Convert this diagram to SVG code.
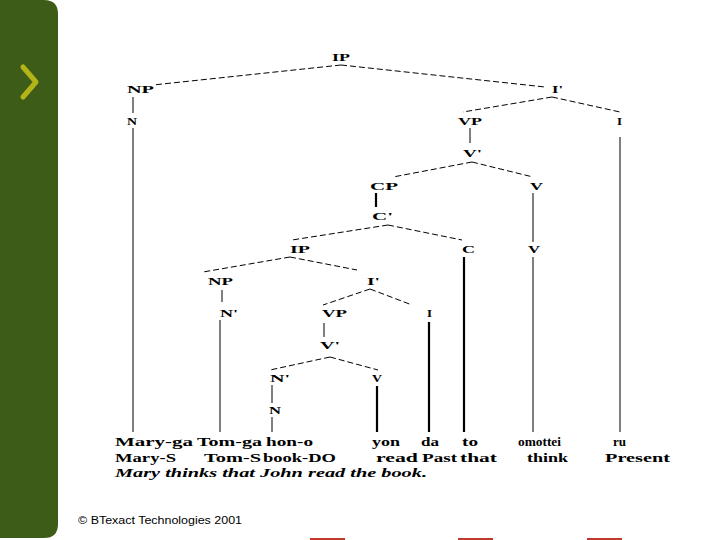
<svg xmlns="http://www.w3.org/2000/svg" width="720" height="540" viewBox="0 0 720 540">
<style>
.lbl{font-family:"Liberation Serif","Times New Roman",serif;font-weight:bold;font-size:11px;fill:#000}
.row{font-family:"Liberation Serif","Times New Roman",serif;font-weight:bold;font-size:12.5px;fill:#000}
.dash{stroke:#000;stroke-width:1;stroke-dasharray:6 3;fill:none}
.sol{stroke:#000;stroke-width:1;fill:none}
.thick{stroke:#000;stroke-width:2.2;fill:none}
.mark{fill:#c0392b}
</style>
<rect width="720" height="540" fill="#fff"/>
<g id="sidebar">
<path d="M0,0 H44 Q58,0 58,14 V524 Q58,538 44,538 H0 Z" fill="#3d5c18"/>
<polyline points="23,67 36,82 23,97" fill="none" stroke="#b3b418" stroke-width="5" stroke-linecap="round" stroke-linejoin="round"/>
</g>
<g id="connectors">
<line class="dash" x1="341" y1="65" x2="153" y2="85"/>
<line class="dash" x1="341" y1="65" x2="545" y2="87"/>
<line class="dash" x1="552" y1="97" x2="463" y2="112"/>
<line class="dash" x1="552" y1="97" x2="620" y2="112"/>
<line class="dash" x1="472" y1="162" x2="393" y2="177"/>
<line class="dash" x1="472" y1="162" x2="533" y2="177"/>
<line class="dash" x1="388" y1="225" x2="292" y2="240"/>
<line class="dash" x1="388" y1="225" x2="462" y2="240"/>
<line class="dash" x1="290" y1="257" x2="203" y2="272"/>
<line class="dash" x1="290" y1="257" x2="357" y2="270"/>
<line class="dash" x1="370" y1="289" x2="323" y2="305"/>
<line class="dash" x1="370" y1="289" x2="412" y2="305"/>
<line class="dash" x1="330" y1="357" x2="270" y2="370"/>
<line class="dash" x1="330" y1="357" x2="378" y2="370"/>
<line class="sol" x1="133" y1="97" x2="133" y2="113"/>
<line class="sol" x1="133" y1="128" x2="133" y2="432"/>
<line class="sol" x1="470" y1="128" x2="470" y2="143"/>
<line class="sol" x1="620" y1="137" x2="620" y2="432"/>
<line class="sol" x1="533" y1="193" x2="533" y2="242"/>
<line class="sol" x1="533" y1="257" x2="533" y2="432"/>
<line class="thick" x1="376" y1="193" x2="376" y2="207"/>
<line class="thick" x1="464" y1="257" x2="464" y2="432"/>
<line class="sol" x1="222" y1="290" x2="222" y2="302"/>
<line class="sol" x1="220" y1="320" x2="220" y2="432"/>
<line class="thick" x1="429" y1="322" x2="429" y2="432"/>
<line class="sol" x1="324" y1="323" x2="324" y2="337"/>
<line class="sol" x1="272" y1="385" x2="272" y2="403"/>
<line class="sol" x1="272" y1="417" x2="272" y2="432"/>
<line class="thick" x1="377" y1="386" x2="377" y2="432"/>
</g>
<g id="n-ip1"><text class="lbl" x="332" y="61" textLength="18" lengthAdjust="spacingAndGlyphs">IP</text></g>
<g id="n-np1"><text class="lbl" x="127" y="93" textLength="27" lengthAdjust="spacingAndGlyphs">NP</text></g>
<g id="n-n1"><text class="lbl" x="127" y="125" textLength="10" lengthAdjust="spacingAndGlyphs">N</text></g>
<g id="n-ibar1"><text class="lbl" x="552" y="93" textLength="11" lengthAdjust="spacingAndGlyphs">I'</text></g>
<g id="n-vp1"><text class="lbl" x="458" y="125" textLength="24" lengthAdjust="spacingAndGlyphs">VP</text></g>
<g id="n-i1"><text class="lbl" x="617" y="125" textLength="5" lengthAdjust="spacingAndGlyphs">I</text></g>
<g id="n-vbar1"><text class="lbl" x="463" y="157" textLength="19" lengthAdjust="spacingAndGlyphs">V'</text></g>
<g id="n-cp"><text class="lbl" x="370" y="190" textLength="28" lengthAdjust="spacingAndGlyphs">CP</text></g>
<g id="n-v1"><text class="lbl" x="530" y="190" textLength="13" lengthAdjust="spacingAndGlyphs">V</text></g>
<g id="n-cbar"><text class="lbl" x="372" y="220" textLength="21" lengthAdjust="spacingAndGlyphs">C'</text></g>
<g id="n-v2"><text class="lbl" x="528" y="253" textLength="12" lengthAdjust="spacingAndGlyphs">V</text></g>
<g id="n-c"><text class="lbl" x="462" y="253" textLength="13" lengthAdjust="spacingAndGlyphs">C</text></g>
<g id="n-ip2"><text class="lbl" x="290" y="253" textLength="20" lengthAdjust="spacingAndGlyphs">IP</text></g>
<g id="n-np2"><text class="lbl" x="208" y="285" textLength="25" lengthAdjust="spacingAndGlyphs">NP</text></g>
<g id="n-ibar2"><text class="lbl" x="367" y="285" textLength="13" lengthAdjust="spacingAndGlyphs">I'</text></g>
<g id="n-nbar1"><text class="lbl" x="220" y="317" textLength="18" lengthAdjust="spacingAndGlyphs">N'</text></g>
<g id="n-vp2"><text class="lbl" x="322" y="317" textLength="25" lengthAdjust="spacingAndGlyphs">VP</text></g>
<g id="n-i2"><text class="lbl" x="427" y="317" textLength="5" lengthAdjust="spacingAndGlyphs">I</text></g>
<g id="n-vbar2"><text class="lbl" x="320" y="349" textLength="20" lengthAdjust="spacingAndGlyphs">V'</text></g>
<g id="n-nbar2"><text class="lbl" x="270" y="382" textLength="20" lengthAdjust="spacingAndGlyphs">N'</text></g>
<g id="n-v3"><text class="lbl" x="372" y="382" textLength="10" lengthAdjust="spacingAndGlyphs">V</text></g>
<g id="n-n2"><text class="lbl" x="269" y="414" textLength="12" lengthAdjust="spacingAndGlyphs">N</text></g>
<g id="gloss">
<text class="row" x="115" y="446" textLength="78" lengthAdjust="spacingAndGlyphs">Mary-ga</text>
<text class="row" x="197" y="446" textLength="65" lengthAdjust="spacingAndGlyphs">Tom-ga</text>
<text class="row" x="266" y="446" textLength="47" lengthAdjust="spacingAndGlyphs">hon-o</text>
<text class="row" x="372" y="446" textLength="28" lengthAdjust="spacingAndGlyphs">yon</text>
<text class="row" x="421" y="446" textLength="18" lengthAdjust="spacingAndGlyphs">da</text>
<text class="row" x="462" y="446" textLength="16" lengthAdjust="spacingAndGlyphs">to</text>
<text class="row" x="518" y="446" textLength="43" lengthAdjust="spacingAndGlyphs">omottei</text>
<text class="row" x="613" y="446" textLength="13" lengthAdjust="spacingAndGlyphs">ru</text>
<text class="row" x="115" y="462" textLength="61" lengthAdjust="spacingAndGlyphs">Mary-S</text>
<text class="row" x="204" y="462" textLength="57" lengthAdjust="spacingAndGlyphs">Tom-S</text>
<text class="row" x="263" y="462" textLength="73" lengthAdjust="spacingAndGlyphs">book-DO</text>
<text class="row" x="376" y="462" textLength="42" lengthAdjust="spacingAndGlyphs">read</text>
<text class="row" x="422" y="462" textLength="35" lengthAdjust="spacingAndGlyphs">Past</text>
<text class="row" x="460" y="462" textLength="37" lengthAdjust="spacingAndGlyphs">that</text>
<text class="row" x="527" y="462" textLength="41" lengthAdjust="spacingAndGlyphs">think</text>
<text class="row" x="605" y="462" textLength="65" lengthAdjust="spacingAndGlyphs">Present</text>
<text class="row" x="115" y="477" font-style="italic" textLength="312" lengthAdjust="spacingAndGlyphs">Mary thinks that John read the book.</text>
</g>
<g id="footer">
<text x="78" y="524" font-family="Liberation Sans, Arial, sans-serif" font-size="10" fill="#000" textLength="164" lengthAdjust="spacingAndGlyphs">© BTexact Technologies 2001</text>
<rect class="mark" x="310" y="538" width="35" height="2"/>
<rect class="mark" x="458" y="538" width="35" height="2"/>
<rect class="mark" x="587" y="538" width="35" height="2"/>
</g>
</svg>
